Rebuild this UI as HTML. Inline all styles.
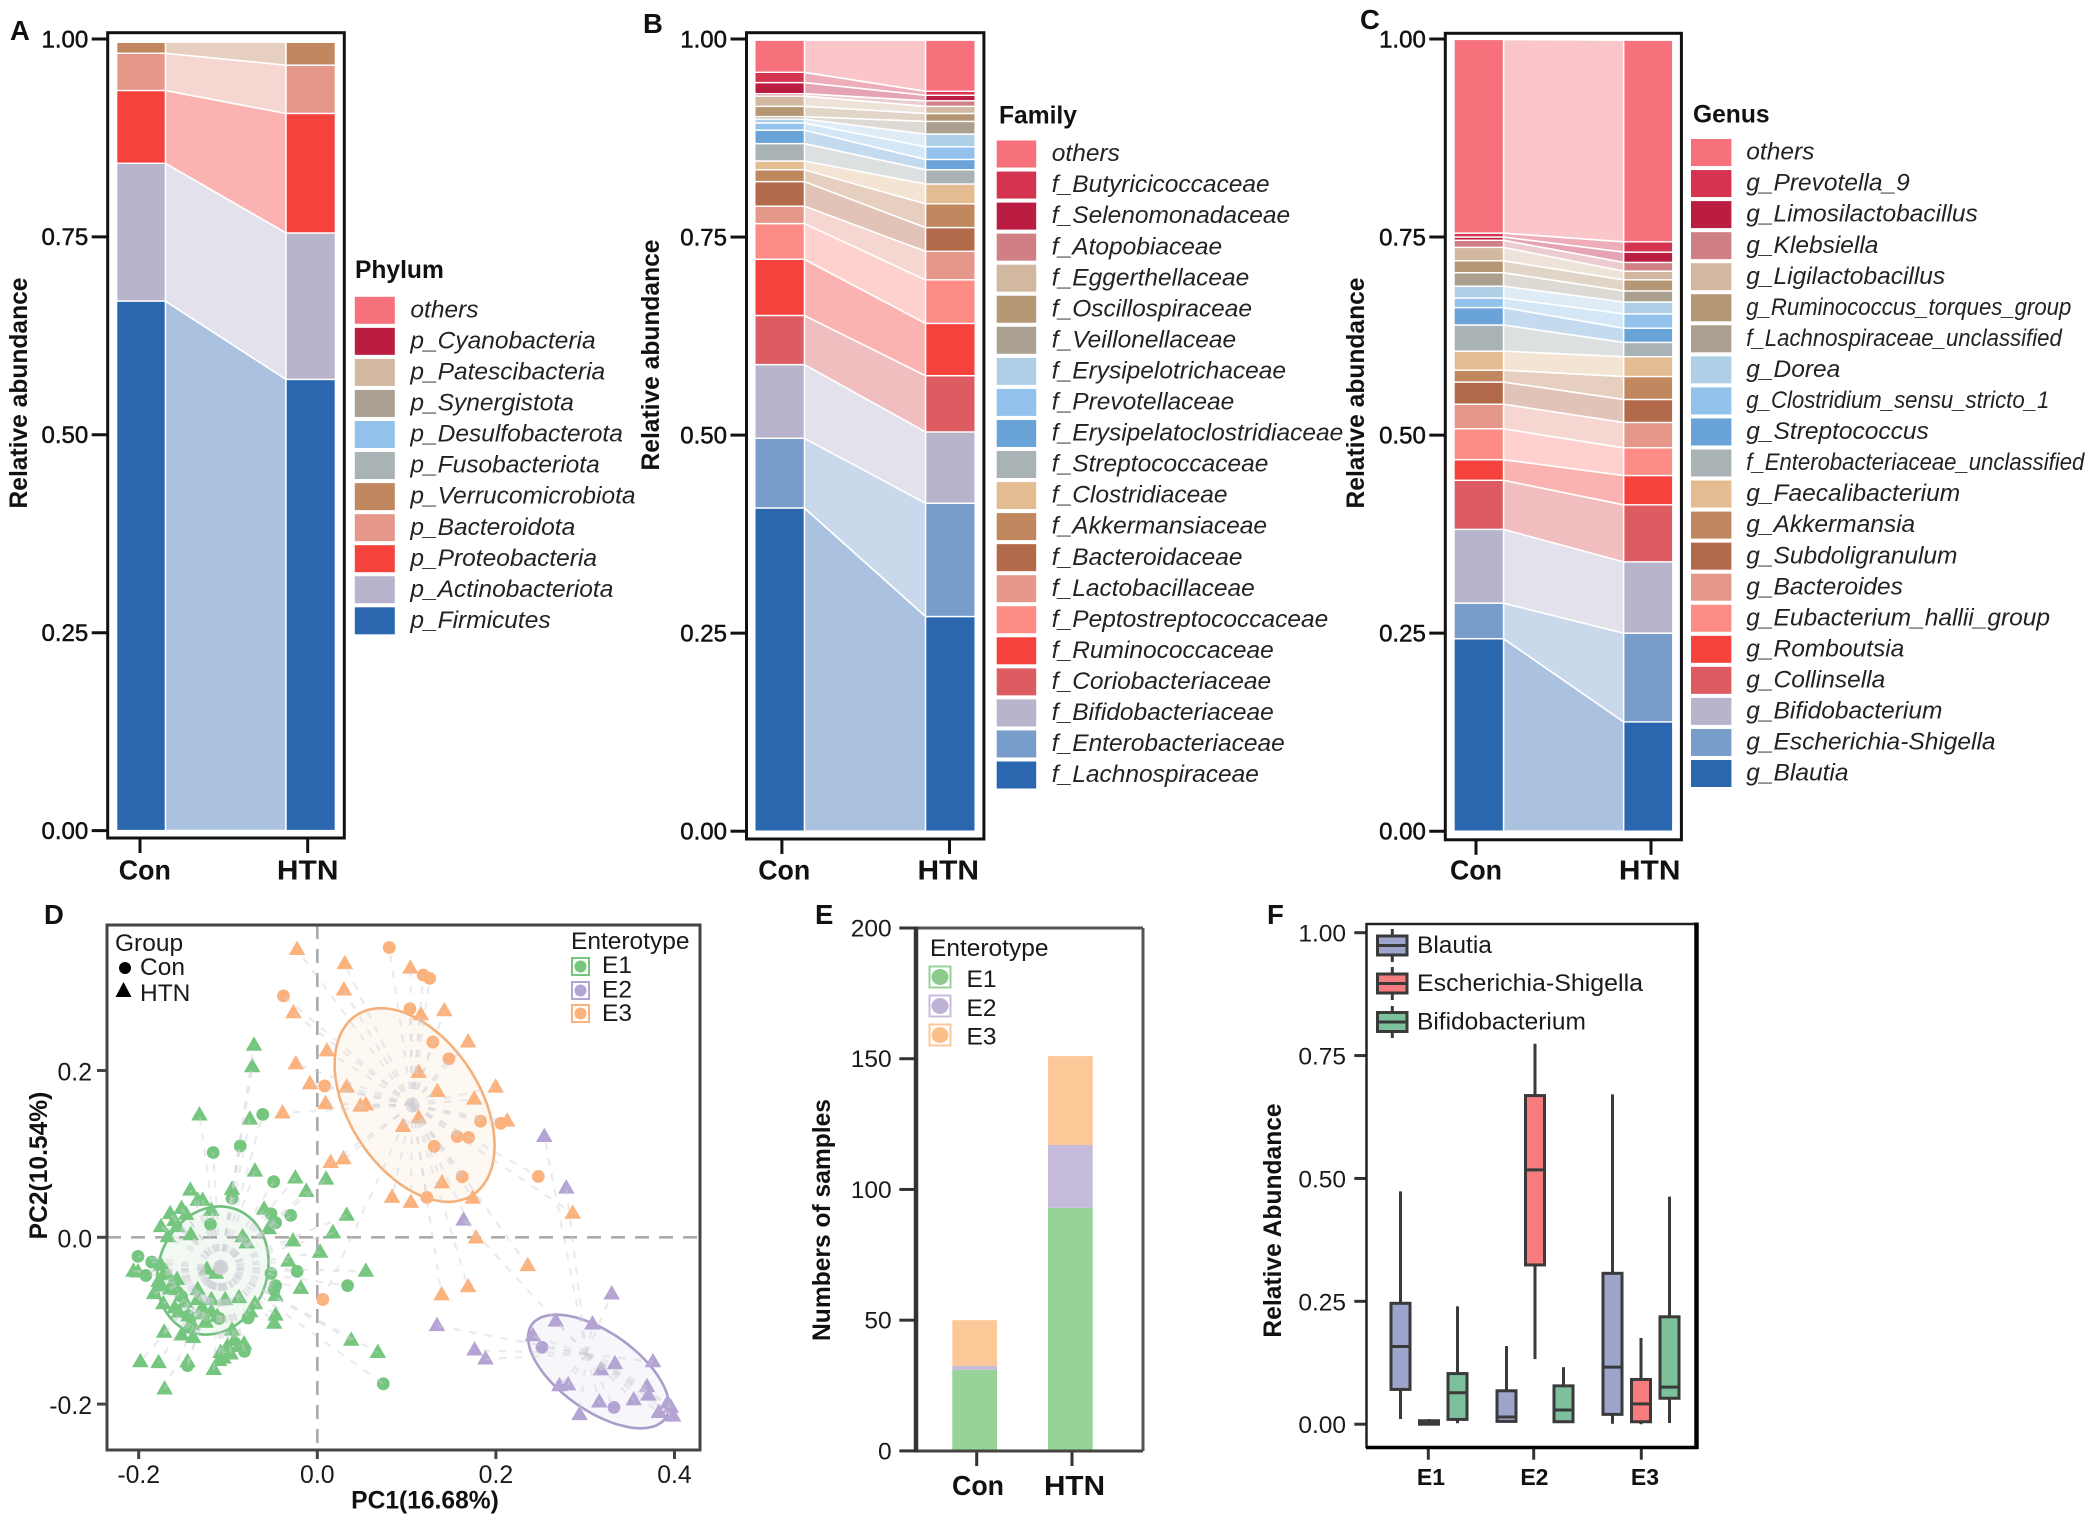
<!DOCTYPE html>
<html lang="en">
<head>
<meta charset="utf-8">
<title>Gut microbiota composition and enterotypes</title>
<style>
html,body{margin:0;padding:0;background:#fff;}
svg{display:block;font-family:"Liberation Sans",Arial,sans-serif;}
text{fill:#111;}
.tick{font-size:24px;stroke:#111;stroke-width:.5;}
.tickd{font-size:24.8px;fill:#1a1a1a;}
.bold{font-weight:bold;font-size:24.6px;}
.letter{font-weight:bold;font-size:27.5px;}
.leg{font-size:24.5px;font-style:italic;fill:#222;}
.plain{font-size:24.5px;fill:#1a1a1a;}
</style>
</head>
<body>
<svg id="fig" xmlns="http://www.w3.org/2000/svg" width="2094" height="1526" viewBox="0 0 2094 1526">
  <rect x="0" y="0" width="2094" height="1526" fill="#ffffff"/>

  <g id="panelA">
    <text class="letter" x="10" y="40">A</text>
    <text class="bold" transform="translate(27,393) rotate(-90)" text-anchor="middle">Relative abundance</text>
    <text class="bold" x="355" y="278">Phylum</text>
  </g>
  <g id="panelB">
    <text class="letter" x="643" y="33">B</text>
    <text class="bold" transform="translate(659,355) rotate(-90)" text-anchor="middle">Relative abundance</text>
    <text class="bold" x="999" y="123.5">Family</text>
  </g>
  <g id="panelC">
    <text class="letter" x="1360" y="29">C</text>
    <text class="bold" transform="translate(1364,393) rotate(-90)" text-anchor="middle">Relative abundance</text>
    <text class="bold" x="1693" y="122.5">Genus</text>
  </g>

  <g id="panelD">
    <text class="letter" x="44" y="924">D</text>
    <text class="bold" transform="translate(47,1165.5) rotate(-90)" text-anchor="middle">PC2(10.54%)</text>
    <text class="bold" x="425" y="1508.5" text-anchor="middle">PC1(16.68%)</text>
    <g id="pcaPlot"></g>
    <rect x="107" y="925" width="593" height="525" fill="none" stroke="#444" stroke-width="3"/>
    <g>
      <text class="plain" x="115" y="951">Group</text>
      <circle cx="125" cy="968" r="6" fill="#000"/>
      <text class="plain" x="140" y="975">Con</text>
      <polygon points="123.5,982 115.5,997 131.5,997" fill="#000"/>
      <text class="plain" x="140" y="1001">HTN</text>
    </g>
    <g>
      <text class="plain" x="571" y="949">Enterotype</text>
      <rect x="572" y="958" width="17" height="17" fill="#fff" stroke="#75c67f" stroke-width="2"/>
      <circle cx="580.5" cy="966.5" r="6" fill="#75c67f"/>
      <text class="plain" x="602" y="973">E1</text>
      <rect x="572" y="982" width="17" height="17" fill="#fff" stroke="#b3a4d3" stroke-width="2"/>
      <circle cx="580.5" cy="990.5" r="6" fill="#b3a4d3"/>
      <text class="plain" x="602" y="997.5">E2</text>
      <rect x="572" y="1005" width="17" height="17" fill="#fff" stroke="#fbb27d" stroke-width="2"/>
      <circle cx="580.5" cy="1013.5" r="6" fill="#fbb27d"/>
      <text class="plain" x="602" y="1021">E3</text>
    </g>
  </g>

  <g id="panelE">
    <text class="letter" x="815" y="924">E</text>
    <text class="bold" transform="translate(830,1220) rotate(-90)" text-anchor="middle">Numbers of samples</text>
    <g id="samplesPlot"></g>
    <g>
      <line x1="916" y1="928" x2="1143" y2="928" stroke="#555" stroke-width="3"/>
      <line x1="1143" y1="928" x2="1143" y2="1451" stroke="#555" stroke-width="3"/>
      <line x1="916" y1="1451" x2="1143" y2="1451" stroke="#444" stroke-width="3"/>
      <line x1="916" y1="926.5" x2="916" y2="1452.5" stroke="#333" stroke-width="4.5"/>
    </g>
    <g>
      <text class="plain" x="930" y="956">Enterotype</text>
      <rect x="929.5" y="966.5" width="21" height="21" fill="#fff" stroke="#97d296" stroke-width="2"/>
      <ellipse cx="940" cy="977" rx="8.5" ry="8" fill="#8ccb8c"/>
      <text class="plain" x="966.5" y="987">E1</text>
      <rect x="929.5" y="995.5" width="21" height="21" fill="#fff" stroke="#c7bbdb" stroke-width="2"/>
      <ellipse cx="940" cy="1006" rx="8.5" ry="8" fill="#bfb2d6"/>
      <text class="plain" x="966.5" y="1016">E2</text>
      <rect x="929.5" y="1024.5" width="21" height="21" fill="#fff" stroke="#fcc898" stroke-width="2"/>
      <ellipse cx="940" cy="1035" rx="8.5" ry="8" fill="#fbbf8a"/>
      <text class="plain" x="966.5" y="1044.5">E3</text>
    </g>
  </g>

  <g id="panelF">
    <text class="letter" x="1267" y="924">F</text>
    <text class="bold" transform="translate(1281,1220.5) rotate(-90)" text-anchor="middle">Relative Abundance</text>
    <g id="boxPlot"></g>
    <g>
      <line x1="1366.5" y1="924" x2="1696" y2="924" stroke="#222" stroke-width="2.5"/>
      <line x1="1366.5" y1="923" x2="1366.5" y2="1448" stroke="#222" stroke-width="2.5"/>
      <line x1="1366" y1="1447.5" x2="1698" y2="1447.5" stroke="#000" stroke-width="3.5"/>
      <line x1="1696.5" y1="922.5" x2="1696.5" y2="1449" stroke="#000" stroke-width="4.5"/>
    </g>
    <g>
      <line x1="1392.3" y1="929" x2="1392.3" y2="962" stroke="#3a3a3a" stroke-width="3"/>
      <rect x="1377.5" y="936" width="29.5" height="19" fill="#9da5cc" stroke="#3a3a3a" stroke-width="3"/>
      <line x1="1377.5" y1="945.5" x2="1407" y2="945.5" stroke="#3a3a3a" stroke-width="3"/>
      <text class="plain" x="1417" y="953">Blautia</text>
      <line x1="1392.3" y1="967" x2="1392.3" y2="1000" stroke="#3a3a3a" stroke-width="3"/>
      <rect x="1377.5" y="974" width="29.5" height="19" fill="#f77c7e" stroke="#3a3a3a" stroke-width="3"/>
      <line x1="1377.5" y1="983.5" x2="1407" y2="983.5" stroke="#3a3a3a" stroke-width="3"/>
      <text class="plain" x="1417" y="991" textLength="226" lengthAdjust="spacingAndGlyphs">Escherichia-Shigella</text>
      <line x1="1392.3" y1="1006" x2="1392.3" y2="1038" stroke="#3a3a3a" stroke-width="3"/>
      <rect x="1377.5" y="1012.5" width="29.5" height="19" fill="#7cc09c" stroke="#3a3a3a" stroke-width="3"/>
      <line x1="1377.5" y1="1022" x2="1407" y2="1022" stroke="#3a3a3a" stroke-width="3"/>
      <text class="plain" x="1417" y="1029.5">Bifidobacterium</text>
    </g>
  </g>
</svg>

<script>
// ---------- Data: stacked relative abundance (bottom of stack first) ----------
const groupLabels = ['Con', 'HTN'];
const stackTicks = [0, 0.25, 0.5, 0.75, 1];
const stackTickLabels = ['0.00', '0.25', '0.50', '0.75', '1.00'];

const phylumNames = ['p_Firmicutes', 'p_Actinobacteriota', 'p_Proteobacteria', 'p_Bacteroidota', 'p_Verrucomicrobiota', 'p_Fusobacteriota', 'p_Desulfobacterota', 'p_Synergistota', 'p_Patescibacteria', 'p_Cyanobacteria', 'others'];
const phylumCon = [0.669, 0.174, 0.092, 0.047, 0.014, 0.0002, 0.0002, 0.0002, 0.0002, 0.0002, 0.0002];
const phylumHtn = [0.570, 0.185, 0.151, 0.061, 0.029, 0.0002, 0.0002, 0.0002, 0.0002, 0.0002, 0.0002];
const phylumColors = ['#2b67af', '#b8b4cc', '#f5423c', '#e5988a', '#c1875f', '#a9b2b5', '#93c3ec', '#ab9f90', '#d2b8a0', '#bb1c42', '#f6717b'];

const familyNames = ['f_Lachnospiraceae', 'f_Enterobacteriaceae', 'f_Bifidobacteriaceae', 'f_Coriobacteriaceae', 'f_Ruminococcaceae', 'f_Peptostreptococcaceae', 'f_Lactobacillaceae', 'f_Bacteroidaceae', 'f_Akkermansiaceae', 'f_Clostridiaceae', 'f_Streptococcaceae', 'f_Erysipelatoclostridiaceae', 'f_Prevotellaceae', 'f_Erysipelotrichaceae', 'f_Veillonellaceae', 'f_Oscillospiraceae', 'f_Eggerthellaceae', 'f_Atopobiaceae', 'f_Selenomonadaceae', 'f_Butyricicoccaceae', 'others'];
const familyCon = [0.408, 0.088, 0.093, 0.062, 0.071, 0.045, 0.022, 0.031, 0.015, 0.011, 0.022, 0.017, 0.009, 0.005, 0.003, 0.013, 0.013, 0.003, 0.014, 0.013, 0.0405];
const familyHtn = [0.271, 0.143, 0.090, 0.071, 0.066, 0.055, 0.036, 0.030, 0.030, 0.025, 0.018, 0.013, 0.016, 0.016, 0.016, 0.010, 0.009, 0.007, 0.007, 0.005, 0.0645];

const genusNames = ['g_Blautia', 'g_Escherichia-Shigella', 'g_Bifidobacterium', 'g_Collinsella', 'g_Romboutsia', 'g_Eubacterium_hallii_group', 'g_Bacteroides', 'g_Subdoligranulum', 'g_Akkermansia', 'g_Faecalibacterium', 'f_Enterobacteriaceae_unclassified', 'g_Streptococcus', 'g_Clostridium_sensu_stricto_1', 'g_Dorea', 'f_Lachnospiraceae_unclassified', 'g_Ruminococcus_torques_group', 'g_Ligilactobacillus', 'g_Klebsiella', 'g_Limosilactobacillus', 'g_Prevotella_9', 'others'];
const genusCon = [0.243, 0.045, 0.093, 0.062, 0.026, 0.039, 0.031, 0.028, 0.015, 0.024, 0.033, 0.022, 0.012, 0.015, 0.017, 0.015, 0.017, 0.009, 0.004, 0.005, 0.2445];
const genusHtn = [0.138, 0.112, 0.090, 0.072, 0.037, 0.035, 0.032, 0.029, 0.029, 0.025, 0.018, 0.018, 0.018, 0.015, 0.014, 0.014, 0.011, 0.011, 0.013, 0.013, 0.2545];
const taxonColors = ['#2b67af', '#789dca', '#b8b4cc', '#dc5c62', '#f5423c', '#fd8c86', '#e5988a', '#b36a4a', '#c1875f', '#e3bc92', '#a9b2b5', '#6aa3d8', '#93c3ec', '#afcfe6', '#ab9f90', '#b59675', '#d2b8a0', '#d08084', '#bb1c42', '#d43450', '#f6717b'];
// condensed legend labels (rendered width in the figure)
const condensedLabelWidths = { 'f_Enterobacteriaceae_unclassified': 338, 'g_Clostridium_sensu_stricto_1': 303, 'f_Lachnospiraceae_unclassified': 315.5, 'g_Ruminococcus_torques_group': 325 };

// ---------- Data: PCA scores [PC1, PC2] ----------
const pcaTicksX = [-0.2, 0, 0.2, 0.4];
const pcaTicksY = [-0.2, 0, 0.2];
const pcaTickLabelsX = ['-0.2', '0.0', '0.2', '0.4'];
const pcaTickLabelsY = ['-0.2', '0.0', '0.2'];

const e1Htn = [[-.0709,.2302],[-.0729,.2044],[-.132,.1465],[-.0755,.1416],[-.0698,.0793],[-.0246,.071],[.0098,.0696],[-.0123,.055],[-.1422,.0564],[-.0955,.0574],[-.134,.0443],[-.1284,.0443],[-.152,.0345],[-.1648,.0282],[-.1469,.0273],[-.1186,.0321],[-.0596,.0336],[.0329,.0263],[-.1751,.0127],[-.1571,.0127],[.0175,.0054],[-.0837,.0005],[-.0272,-.0044],[-.0544,.0102],[-.1674,.0005],[-.1417,.0029],[-.0791,-.0068],[.0031,-.018],[-.0323,-.0287],[.0544,-.0409],[-.1751,-.0336],[-.17,-.0409],[-.2059,-.0409],[-.2008,-.0418],[-.1135,-.0433],[-.1237,-.0384],[-.0185,-.0613],[-.1777,-.053],[-.1623,-.0555],[-.1571,-.0628],[-.152,-.0701],[-.1828,-.0676],[-.1725,-.0798],[-.1597,-.0847],[-.134,-.0628],[-.1186,-.0749],[-.1032,-.0749],[-.1289,-.0847],[-.0878,-.0725],[-.0698,-.0798],[-.0467,-.0701],[-.0467,-.0934],[-.0483,-.1032],[-.1715,-.1139],[-.152,-.1173],[-.1392,-.1202],[-.1443,-.0944],[-.1289,-.092],[-.0955,-.1114],[-.0929,-.1236],[.038,-.1236],[.0678,-.1382],[-.1982,-.1494],[-.1777,-.1504],[-.1453,-.1494],[-.116,-.1586],[-.171,-.182],[-.1083,-.1382],[-.1006,-.1309],[-.0878,-.1309],[-.1443,-.109],[-.1186,-.0895],[-.134,-.0749],[-.1571,-.0506],[-.075,-.0895],[-.165,-.062],[-.148,-.078],[-.125,-.102],[-.112,-.095],[-.16,.02],[-.17,-.045],[-.155,-.09],[-.097,-.14],[-.105,-.145],[-.11,-.148],[-.14,-.105],[-.082,-.128]];
const e1Con = [[-.0611,.1474],[-.1166,.1017],[-.0863,.1095],[-.0488,.0667],[-.0955,.0467],[-.1196,.0156],[-.0298,.0263],[-.0519,.0282],[-.0467,.0175],[-.2008,-.0229],[-.1854,-.0297],[-.192,-.0457],[-.1766,-.0579],[-.152,-.071],[-.0519,-.0433],[-.0226,-.0409],[-.0483,-.0628],[.0339,-.0579],[-.1099,-.0973],[-.0775,-.0968],[-.1443,-.0944],[-.0816,-.1367],[-.1453,-.1538],[.0739,-.1757],[-.0467,-.0579]];
const e2Htn = [[.2542,.1207],[.2788,.0589],[.1638,.0204],[.3297,-.0681],[.134,-.1061],[.267,-.1007],[.3081,-.1041],[.2413,-.1182],[.1761,-.1353],[.1884,-.146],[.3333,-.1518],[.3178,-.1591],[.3759,-.1494],[.2711,-.1781],[.2809,-.1771],[.3692,-.1791],[.3707,-.1893],[.3543,-.1951],[.3158,-.1976],[.2937,-.2127],[.3825,-.2102],[.3923,-.199],[.3959,-.2039],[.3985,-.2146]];
const e2Con = [[.2516,-.1319],[.3322,-.2039]];
const e3Htn = [[-.0226,.345],[.0308,.328],[.1042,.3226],[.0298,.2964],[-.0267,.2691],[.116,.2667],[.1422,.2715],[.1689,.2341],[.0108,.2234],[-.0241,.2078],[.1135,.1976],[-.0082,.1839],[.0329,.18],[.1345,.1747],[.1997,.18],[.1756,.1655],[.0092,.1601],[-.039,.1489],[.0483,.1572],[.0544,.1586],[.1135,.1431],[.096,.1328],[.2126,.1392],[.0149,.0895],[.0293,.0939],[.1397,.0652],[.0837,.0477],[.1047,.0418],[.1741,.0467],[.286,.0287],[.1777,-.001],[.2357,-.0341],[.1689,-.0594],[.1392,-.0691]];
const e3Con = [[.0806,.3474],[.1186,.3144],[.1258,.3105],[-.038,.2895],[.1037,.274],[.1294,.2341],[.1474,.2141],[.0082,.1815],[.1828,.1392],[.2054,.1367],[.1566,.1207],[.1694,.1197],[.1309,.109],[.1623,.0725],[.1227,.0477],[.2475,.073],[.0062,-.0745]];
const e1Centroid = [-.1083, -.036];
const e2Centroid = [.3014, -.1397];
const e3Centroid = [.1063, .1586];
// ellipse: centre PC1, centre PC2, half-width, half-height, correlation (data units)
const e1Ellipse = [-.117, -.0398, .0625, .0769, .125];
const e2Ellipse = [.3149, -.1609, .0789, .0681, -.6];
const e3Ellipse = [.109, .1586, .0896, .1161, -.42];

// ---------- Data: sample counts ----------
const sampleTicks = [0, 50, 100, 150, 200];
const sampleTickLabels = ['0', '50', '100', '150', '200'];
const enterotypeNames = ['E1', 'E2', 'E3'];
const samplesCon = [31, 1.5, 17.5];
const samplesHtn = [93, 24, 34];

// ---------- Data: box plots, each row [low, q1, median, q3, high] for E1, E2, E3 ----------
const boxTicks = [0, 0.25, 0.5, 0.75, 1];
const boxTickLabels = ['0.00', '0.25', '0.50', '0.75', '1.00'];
const blautiaBoxes = [[.0106,.0707,.158,.246,.4736],[.0057,.0057,.0146,.068,.159],[.001,.02,.116,.307,.671]];
const escherichiaBoxes = [[0,0,.002,.007,.0106],[.1324,.324,.5175,.6686,.774],[0,.005,.0414,.091,.1755]];
const bifidoBoxes = [[.002,.0097,.064,.103,.2396],[.005,.005,.029,.078,.116],[.0024,.0528,.0755,.2185,.463]];

// ---------- Drawing ----------
const SVGNS = 'http://www.w3.org/2000/svg';
function make(parent, tag, name) {
  const el = document.createElementNS(SVGNS, tag);
  
  
  parent.appendChild(el);
  return el;
}
function setAll(el, o) { for (const k in o) el.setAttribute(k, o[k]); return el; }
function slug(s) { return s.toLowerCase().replace(/[^a-z0-9]+/g, '-').replace(/^-|-$/g, ''); }
function label(parent, name, x, y, str, cls, anchor, len) {
  const el = make(parent, 'text', name);
  setAll(el, { x: x, y: y, 'class': cls });
  if (anchor) el.setAttribute('text-anchor', anchor);
  if (len) { el.setAttribute('textLength', len); el.setAttribute('lengthAdjust', 'spacingAndGlyphs'); }
  el.textContent = str;
  return el;
}

function drawStack(gid, names, con, htn, colors, c) {
  const g = document.getElementById(gid);
  const y = v => c.y0 - c.ySpan * v;
  let a = 0, b = 0;
  names.forEach((n, i) => {
    const a2 = a + con[i], b2 = b + htn[i];
    const flow = make(g, 'polygon', 'flow-' + slug(n));
    setAll(flow, { points: [c.conX[1], y(a), c.htnX[0], y(b), c.htnX[0], y(b2), c.conX[1], y(a2)].join(' '), fill: colors[i], 'fill-opacity': 0.4, stroke: '#fff', 'stroke-width': 1.6 });
    const r1 = make(g, 'rect', 'bar-con-' + slug(n));
    setAll(r1, { x: c.conX[0], y: y(a2), width: c.conX[1] - c.conX[0], height: Math.max(0, y(a) - y(a2)), fill: colors[i], stroke: '#fff', 'stroke-width': 1.4 });
    const r2 = make(g, 'rect', 'bar-htn-' + slug(n));
    setAll(r2, { x: c.htnX[0], y: y(b2), width: c.htnX[1] - c.htnX[0], height: Math.max(0, y(b) - y(b2)), fill: colors[i], stroke: '#fff', 'stroke-width': 1.4 });
    a = a2; b = b2;
  });
  const frame = make(g, 'rect', 'plot-frame');
  setAll(frame, { x: c.frame[0], y: c.frame[1], width: c.frame[2] - c.frame[0], height: c.frame[3] - c.frame[1], fill: 'none', stroke: '#111', 'stroke-width': 3 });
  stackTicks.forEach((v, i) => {
    const t = make(g, 'line', 'y-tick');
    setAll(t, { x1: c.frame[0] - 16, x2: c.frame[0], y1: y(v), y2: y(v), stroke: '#111', 'stroke-width': 3 });
    label(g, 'y-tick-label', c.frame[0] - 19.5, y(v) + 8.3, stackTickLabels[i], 'tick', 'end');
  });
  groupLabels.forEach((lab, i) => {
    const t = make(g, 'line', 'x-tick');
    setAll(t, { x1: c.tickX[i], x2: c.tickX[i], y1: c.frame[3], y2: c.frame[3] + 15, stroke: '#111', 'stroke-width': 3 });
    const el = label(g, 'x-tick-label', c.labelX[i], 879.5, lab, 'bold', 'middle', i === 0 ? 52 : 61.5);
    el.setAttribute('style', 'font-size:28px');
  });
  const n = names.length;
  names.forEach((name, i) => {
    const row = n - 1 - i;
    const s = make(g, 'rect', 'legend-swatch-' + slug(name));
    setAll(s, { x: c.legX, y: c.legY + row * 31.05, width: c.legW, height: 27, fill: colors[i] });
    label(g, 'legend-label-' + slug(name), c.legTextX, c.legY + 20.6 + row * 31.05, name, 'leg', null, condensedLabelWidths[name]);
  });
}

drawStack('panelA', phylumNames, phylumCon, phylumHtn, phylumColors, {
  y0: 830.6, ySpan: 791.6, conX: [116.6, 165.4], htnX: [286, 335.4], frame: [107.7, 32.7, 344.3, 838],
  tickX: [140, 307.7], labelX: [144.8, 307.7], legX: 354.8, legY: 296.8, legW: 40, legTextX: 410.4
});
drawStack('panelB', familyNames, familyCon, familyHtn, taxonColors, {
  y0: 831.2, ySpan: 792.2, conX: [754.8, 804.4], htnX: [925.6, 975.2], frame: [746.5, 32.7, 983.9, 839],
  tickX: [781.9, 949.5], labelX: [784.2, 948.3], legX: 996.7, legY: 140.5, legW: 39.5, legTextX: 1051.8
});
drawStack('panelC', genusNames, genusCon, genusHtn, taxonColors, {
  y0: 831.2, ySpan: 792.2, conX: [1454, 1503.5], htnX: [1623.7, 1672.8], frame: [1445.3, 33.3, 1681.4, 839.8],
  tickX: [1476, 1651], labelX: [1476, 1649.7], legX: 1691, legY: 139, legW: 40.4, legTextX: 1746.3
});

// Panel D
(function () {
  const g = document.getElementById('pcaPlot');
  const px = v => 317.3 + 893 * v;
  const py = v => 1237.3 - 834 * v;
  const zeroH = make(g, 'line', 'zero-line-horizontal');
  setAll(zeroH, { x1: 107, x2: 700, y1: py(0), y2: py(0), stroke: '#aaa', 'stroke-width': 2.6, 'stroke-dasharray': '14 10' });
  const zeroV = make(g, 'line', 'zero-line-vertical');
  setAll(zeroV, { x1: px(0), x2: px(0), y1: 925, y2: 1450, stroke: '#aaa', 'stroke-width': 2.6, 'stroke-dasharray': '14 10' });

  function ellipse(name, e, col) {
    let d = '';
    for (let k = 0; k <= 72; k++) {
      const t = k / 72 * 2 * Math.PI;
      const u = e[0] + e[2] * Math.cos(t);
      const v = e[1] + e[3] * (e[4] * Math.cos(t) + Math.sqrt(1 - e[4] * e[4]) * Math.sin(t));
      d += (k ? 'L' : 'M') + px(u).toFixed(1) + ' ' + py(v).toFixed(1);
    }
    const p = make(g, 'path', name);
    setAll(p, { d: d + 'Z', fill: col, 'fill-opacity': 0.09, stroke: col, 'stroke-width': 2.6 });
  }
  ellipse('ellipse-e1', e1Ellipse, '#6fbf7f');
  ellipse('ellipse-e2', e2Ellipse, '#ab9dcb');
  ellipse('ellipse-e3', e3Ellipse, '#f4b07a');

  function points(name, arr, col, tri) {
    arr.forEach(p => {
      const x = px(p[0]), y = py(p[1]);
      if (tri) {
        const el = make(g, 'polygon', name);
        setAll(el, { points: [x, y - 9, x - 8.3, y + 5.4, x + 8.3, y + 5.4].join(' '), fill: col });
      } else {
        const el = make(g, 'circle', name);
        setAll(el, { cx: x, cy: y, r: 6.4, fill: col });
      }
    });
  }
  points('point-e1-con', e1Con, '#75c67f', false);
  points('point-e1-htn', e1Htn, '#75c67f', true);
  points('point-e2-con', e2Con, '#b3a4d3', false);
  points('point-e2-htn', e2Htn, '#b3a4d3', true);
  points('point-e3-con', e3Con, '#fbb27d', false);
  points('point-e3-htn', e3Htn, '#fbb27d', true);

  function spider(name, list, c) {
    list.forEach(p => {
      const el = make(g, 'line', name);
      setAll(el, { x1: px(c[0]), y1: py(c[1]), x2: px(p[0]), y2: py(p[1]), stroke: '#cfcfd6', 'stroke-opacity': 0.42, 'stroke-width': 2.2, 'stroke-dasharray': '7.5 8.5' });
    });
  }
  spider('spider-e1', e1Con.concat(e1Htn), e1Centroid);
  spider('spider-e2', e2Con.concat(e2Htn), e2Centroid);
  spider('spider-e3', e3Con.concat(e3Htn), e3Centroid);

  pcaTicksX.forEach((v, i) => {
    const t = make(g, 'line', 'x-tick');
    setAll(t, { x1: px(v), x2: px(v), y1: 1450, y2: 1459, stroke: '#444', 'stroke-width': 3 });
    label(g, 'x-tick-label', px(v), 1483, pcaTickLabelsX[i], 'tickd', 'middle');
  });
  pcaTicksY.forEach((v, i) => {
    const t = make(g, 'line', 'y-tick');
    setAll(t, { x1: 97, x2: 107, y1: py(v), y2: py(v), stroke: '#444', 'stroke-width': 3 });
    label(g, 'y-tick-label', 92, py(v) + 10, pcaTickLabelsY[i], 'tickd', 'end');
  });
})();

// Panel E
(function () {
  const g = document.getElementById('samplesPlot');
  const y = v => 1450.9 - 2.6145 * v;
  const barX = [952.3, 1048];
  const tickX = [976.7, 1072];
  const labelX = [978, 1074.5];
  const cols = ['#97d296', '#c7bbdb', '#fcc898'];
  [samplesCon, samplesHtn].forEach((vals, gi) => {
    let acc = 0;
    vals.forEach((v, i) => {
      const r = make(g, 'rect', 'bar-' + slug(groupLabels[gi]) + '-' + slug(enterotypeNames[i]));
      setAll(r, { x: barX[gi], y: y(acc + v), width: 44.7, height: y(acc) - y(acc + v), fill: cols[i] });
      acc += v;
    });
    const t = make(g, 'line', 'x-tick');
    setAll(t, { x1: tickX[gi], x2: tickX[gi], y1: 1451, y2: 1466, stroke: '#333', 'stroke-width': 3 });
    const el = label(g, 'x-tick-label', labelX[gi], 1494.8, groupLabels[gi], 'bold', 'middle', gi === 0 ? 52 : 61);
    el.setAttribute('style', 'font-size:28px');
  });
  sampleTicks.forEach((v, i) => {
    const t = make(g, 'line', 'y-tick');
    setAll(t, { x1: 899.3, x2: 915, y1: y(v), y2: y(v), stroke: '#333', 'stroke-width': 3 });
    label(g, 'y-tick-label', 891.7, y(v) + 8.5, sampleTickLabels[i], 'plain', 'end');
  });
})();

// Panel F
(function () {
  const g = document.getElementById('boxPlot');
  const y = v => 1424.2 - 491.5 * v;
  const gx = i => 1429 + 106 * i;
  const stroke = '#3a3a3a';
  function boxes(name, rows, offset, col) {
    rows.forEach((r, i) => {
      const cx = gx(i) + offset;
      const w1 = make(g, 'line', name + '-whisker');
      setAll(w1, { x1: cx, x2: cx, y1: y(r[4]), y2: y(r[0]), stroke: stroke, 'stroke-width': 3 });
      const b = make(g, 'rect', name + '-box');
      setAll(b, { x: cx - 9.5, y: y(r[3]), width: 19, height: y(r[1]) - y(r[3]), fill: col, stroke: stroke, 'stroke-width': 3 });
      const m = make(g, 'line', name + '-median');
      setAll(m, { x1: cx - 9.5, x2: cx + 9.5, y1: y(r[2]), y2: y(r[2]), stroke: stroke, 'stroke-width': 3 });
    });
  }
  boxes('box-blautia', blautiaBoxes, -28.5, '#9da5cc');
  boxes('box-escherichia', escherichiaBoxes, 0, '#f77c7e');
  boxes('box-bifidobacterium', bifidoBoxes, 28.5, '#7cc09c');
  boxTicks.forEach((v, i) => {
    const t = make(g, 'line', 'y-tick');
    setAll(t, { x1: 1354.3, x2: 1366.7, y1: y(v), y2: y(v), stroke: '#333', 'stroke-width': 3 });
    label(g, 'y-tick-label', 1346, y(v) + 9, boxTickLabels[i], 'plain', 'end');
  });
  const labX = [1431, 1534.4, 1645];
  const tickX = [1428.3, 1533.7, 1641.3];
  enterotypeNames.forEach((n, i) => {
    const t = make(g, 'line', 'x-tick');
    setAll(t, { x1: tickX[i], x2: tickX[i], y1: 1447.7, y2: 1459.7, stroke: '#333', 'stroke-width': 3 });
    const el = label(g, 'x-tick-label', labX[i], 1484.8, n, 'bold', 'middle');
    el.setAttribute('style', 'font-size:23px');
  });
})();
</script>
</body>
</html>
